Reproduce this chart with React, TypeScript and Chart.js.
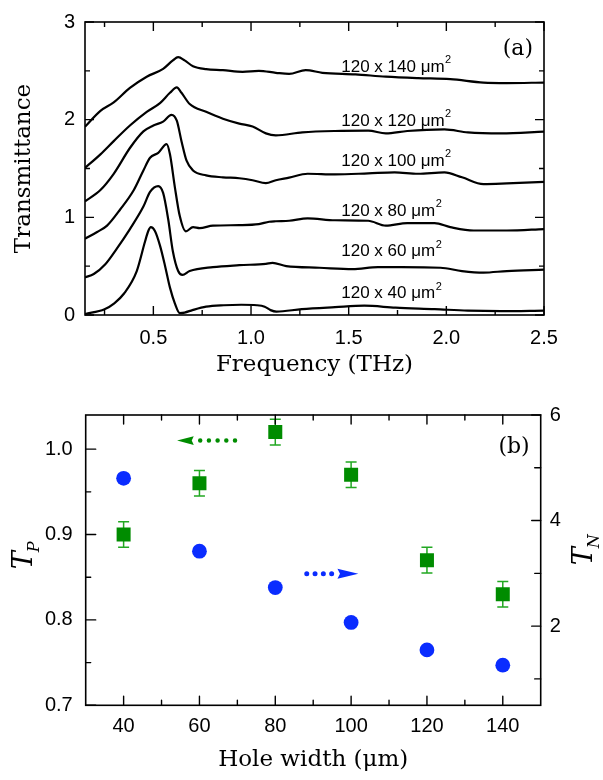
import { useEffect, useRef } from "react";
import { Chart, registerables } from "chart.js";

Chart.register(...registerables);

// ---- panel (a): transmittance spectra (curves are offset) ----
const freq40 = [0.15, 0.25, 0.3, 0.35, 0.415, 0.457, 0.474, 0.487, 0.508, 0.534, 0.559, 0.585, 0.61, 0.635, 0.66, 0.7, 0.77, 0.86, 0.95, 1.03, 1.07, 1.1, 1.13, 1.26, 1.43, 1.58, 1.74, 1.94, 2.11, 2.28, 2.5];
const trans40 = [0.01, 0.06, 0.12, 0.22, 0.45, 0.75, 0.86, 0.9, 0.86, 0.71, 0.51, 0.28, 0.12, 0.02, 0.025, 0.05, 0.085, 0.1, 0.105, 0.1, 0.085, 0.05, 0.035, 0.06, 0.08, 0.095, 0.075, 0.06, 0.045, 0.04, 0.045];

const freq60 = [0.15, 0.195, 0.254, 0.313, 0.38, 0.449, 0.483, 0.525, 0.55, 0.576, 0.6, 0.627, 0.649, 0.686, 0.805, 0.94, 1.076, 1.11, 1.18, 1.35, 1.52, 1.65, 1.77, 1.97, 2.08, 2.19, 2.31, 2.5];
const trans60 = [0.385, 0.42, 0.52, 0.68, 0.88, 1.11, 1.26, 1.32, 1.25, 0.98, 0.65, 0.45, 0.41, 0.45, 0.49, 0.51, 0.524, 0.534, 0.5, 0.484, 0.47, 0.49, 0.49, 0.484, 0.45, 0.434, 0.45, 0.464];

const freq80 = [0.15, 0.212, 0.263, 0.33, 0.4, 0.449, 0.483, 0.525, 0.568, 0.585, 0.61, 0.635, 0.666, 0.703, 0.737, 0.805, 0.94, 1.04, 1.093, 1.127, 1.195, 1.29, 1.43, 1.6, 1.69, 1.8, 1.94, 2.02, 2.14, 2.31, 2.5];
const trans80 = [0.78, 0.85, 0.915, 1.08, 1.28, 1.48, 1.61, 1.66, 1.75, 1.645, 1.31, 1.015, 0.856, 0.9, 0.89, 0.915, 0.92, 0.93, 0.955, 0.96, 0.965, 0.99, 0.97, 0.965, 0.915, 0.94, 0.94, 0.9, 0.865, 0.865, 0.88];

const freq100 = [0.15, 0.229, 0.297, 0.38, 0.449, 0.5, 0.55, 0.593, 0.62, 0.644, 0.67, 0.703, 0.77, 0.856, 0.94, 1.008, 1.076, 1.127, 1.195, 1.29, 1.43, 1.6, 1.735, 1.855, 1.99, 2.08, 2.19, 2.31, 2.5];
const trans100 = [1.164, 1.28, 1.446, 1.71, 1.88, 1.94, 1.98, 2.05, 1.99, 1.78, 1.58, 1.48, 1.43, 1.41, 1.4, 1.38, 1.35, 1.38, 1.406, 1.446, 1.44, 1.45, 1.46, 1.446, 1.46, 1.41, 1.34, 1.347, 1.363];

const freq120 = [0.15, 0.229, 0.297, 0.38, 0.466, 0.534, 0.585, 0.62, 0.644, 0.686, 0.77, 0.856, 0.94, 1.008, 1.076, 1.127, 1.263, 1.43, 1.6, 1.69, 1.8, 1.99, 2.11, 2.28, 2.5];
const trans120 = [1.506, 1.645, 1.78, 1.94, 2.08, 2.17, 2.275, 2.33, 2.275, 2.16, 2.08, 2.01, 1.96, 1.93, 1.86, 1.84, 1.87, 1.884, 1.887, 1.86, 1.884, 1.9, 1.87, 1.86, 1.877];

const freq140 = [0.15, 0.229, 0.297, 0.38, 0.466, 0.55, 0.6, 0.627, 0.66, 0.703, 0.77, 0.856, 0.957, 1.04, 1.127, 1.195, 1.28, 1.365, 1.535, 1.69, 1.855, 2.02, 2.19, 2.31, 2.5];
const trans140 = [1.927, 2.09, 2.176, 2.325, 2.44, 2.52, 2.607, 2.64, 2.607, 2.547, 2.517, 2.507, 2.49, 2.5, 2.48, 2.468, 2.507, 2.48, 2.464, 2.44, 2.425, 2.415, 2.38, 2.375, 2.38];

const curveFreqs = [freq40, freq60, freq80, freq100, freq120, freq140];
const curveTrans = [trans40, trans60, trans80, trans100, trans120, trans140];
const curveLabels = ["120 x 40 \u03bcm", "120 x 60 \u03bcm", "120 x 80 \u03bcm", "120 x 100 \u03bcm", "120 x 120 \u03bcm", "120 x 140 \u03bcm"];
const curveLabelY = [0.17, 0.6, 1.015, 1.53, 1.94, 2.49];
const curveLabelX = 1.462;

const freqTicks = [0.5, 1.0, 1.5, 2.0, 2.5];
const freqMinor = [0.25, 0.75, 1.25, 1.75, 2.25];
const transTicks = [0, 1, 2, 3];
const transMinor = [0.5, 1.5, 2.5];

// ---- panel (b): peak transmittance vs hole width ----
const holeWidth = [40, 60, 80, 100, 120, 140];
const tp = [0.9, 0.96, 1.02, 0.97, 0.87, 0.83];
const tpErr = [0.015, 0.015, 0.015, 0.015, 0.015, 0.015];
const tn = [4.8, 3.42, 2.73, 2.07, 1.55, 1.26];

const holeTicks = [40, 60, 80, 100, 120, 140];
const holeMinor = [50, 70, 90, 110, 130];
const tpTicks = [0.7, 0.8, 0.9, 1.0];
const tpMinor = [0.75, 0.85, 0.95];
const tnTicks = [2, 4, 6];
const tnMinor = [1, 3, 5];

const GREEN = "#008c00";
const GREEN_ERR = "#22a822";
const BLUE = "#0a2cff";
const SANS = "'Liberation Sans', Arial, sans-serif";
const SERIF = "'DejaVu Serif', serif";

const tickFont = { family: SANS, size: 20 };
const titleFont = { family: SERIF, size: 23 };

function drawTicks(ctx: any, area: any, scale: any, values: number[], len: number, side: string) {
  ctx.beginPath();
  values.forEach((v) => {
    const p = scale.getPixelForValue(v);
    if (side === "bottom") { ctx.moveTo(p, area.bottom); ctx.lineTo(p, area.bottom - len); }
    if (side === "top") { ctx.moveTo(p, area.top); ctx.lineTo(p, area.top + len); }
    if (side === "left") { ctx.moveTo(area.left, p); ctx.lineTo(area.left + len, p); }
    if (side === "right") { ctx.moveTo(area.right, p); ctx.lineTo(area.right - len, p); }
  });
  ctx.stroke();
}

function drawFrame(ctx: any, area: any) {
  ctx.strokeStyle = "#000";
  ctx.lineWidth = 1.6;
  ctx.strokeRect(area.left, area.top, area.right - area.left, area.bottom - area.top);
}

function drawPanelLetter(ctx: any, area: any, text: string, dy: number) {
  ctx.fillStyle = "#000";
  ctx.font = `22px ${SERIF}`;
  ctx.textAlign = "right";
  ctx.textBaseline = "alphabetic";
  ctx.fillText(text, area.right - 11, area.top + dy);
}

const spectraPlugin = {
  id: "spectraDecor",
  afterDatasetsDraw(chart: any) {
    const { ctx, chartArea: a, scales } = chart;
    ctx.save();
    ctx.fillStyle = "#000";
    ctx.textBaseline = "alphabetic";
    ctx.textAlign = "left";
    curveLabels.forEach((label, i) => {
      const x = scales.x.getPixelForValue(curveLabelX);
      const y = scales.y.getPixelForValue(curveLabelY[i]);
      ctx.font = `17px ${SANS}`;
      ctx.fillText(label, x, y);
      const w = ctx.measureText(label).width;
      ctx.font = `11px ${SANS}`;
      ctx.fillText("2", x + w + 0.5, y - 8.5);
    });
    drawFrame(ctx, a);
    ctx.lineWidth = 1.4;
    drawTicks(ctx, a, scales.x, freqTicks, 9, "bottom");
    drawTicks(ctx, a, scales.x, freqMinor, 5, "bottom");
    drawTicks(ctx, a, scales.x, freqTicks, 9, "top");
    drawTicks(ctx, a, scales.x, freqMinor, 5, "top");
    drawTicks(ctx, a, scales.y, transTicks, 9, "left");
    drawTicks(ctx, a, scales.y, transMinor, 5, "left");
    drawTicks(ctx, a, scales.y, transTicks, 9, "right");
    drawTicks(ctx, a, scales.y, transMinor, 5, "right");
    drawPanelLetter(ctx, a, "(a)", 33);
    ctx.restore();
  },
};

function drawArrow(ctx: any, sx: any, sy: any, yVal: number, dotFrom: number, dotTo: number, headBase: number, tip: number, half: number, dot: number, gap: number, color: string) {
  const y = sy.getPixelForValue(yVal);
  ctx.strokeStyle = color;
  ctx.fillStyle = color;
  ctx.lineCap = "round";
  ctx.lineWidth = dot;
  ctx.setLineDash([0, gap]);
  ctx.beginPath();
  ctx.moveTo(sx.getPixelForValue(dotFrom), y);
  ctx.lineTo(sx.getPixelForValue(dotTo), y);
  ctx.stroke();
  ctx.setLineDash([]);
  const b = sx.getPixelForValue(headBase);
  const t = sx.getPixelForValue(tip);
  ctx.beginPath();
  ctx.moveTo(t, y);
  ctx.lineTo(b, y - half);
  ctx.lineTo(b + (t - b) * 0.12, y);
  ctx.lineTo(b, y + half);
  ctx.closePath();
  ctx.fill();
}

function drawSubLabel(ctx: any, x: number, y: number, main: string, sub: string) {
  ctx.save();
  ctx.translate(x, y);
  ctx.rotate(-Math.PI / 2);
  ctx.fillStyle = "#000";
  ctx.textAlign = "left";
  ctx.textBaseline = "alphabetic";
  ctx.font = `italic 27px ${SERIF}`;
  ctx.fillText(main, 0, 0);
  const w = ctx.measureText(main).width;
  ctx.font = `italic 16px ${SERIF}`;
  ctx.fillText(sub, w - 1, 7);
  ctx.restore();
}

const holePlugin = {
  id: "holeDecor",
  beforeDatasetsDraw(chart: any) {
    const { ctx, scales } = chart;
    ctx.save();
    ctx.strokeStyle = GREEN_ERR;
    ctx.lineWidth = 1.5;
    holeWidth.forEach((w, i) => {
      const x = scales.x.getPixelForValue(w);
      const top = scales.y.getPixelForValue(tp[i] + tpErr[i]);
      const bot = scales.y.getPixelForValue(tp[i] - tpErr[i]);
      ctx.beginPath();
      ctx.moveTo(x, top); ctx.lineTo(x, bot);
      ctx.moveTo(x - 5.5, top); ctx.lineTo(x + 5.5, top);
      ctx.moveTo(x - 5.5, bot); ctx.lineTo(x + 5.5, bot);
      ctx.stroke();
    });
    ctx.restore();
  },
  afterDatasetsDraw(chart: any) {
    const { ctx, chartArea: a, scales } = chart;
    ctx.save();
    drawArrow(ctx, scales.x, scales.y, 1.01, 60.2, 69.4, 58.5, 54.1, 4.3, 4.5, 8.7, GREEN);
    drawArrow(ctx, scales.x, scales.y, 0.854, 88.3, 95, 96.4, 101.9, 5, 5, 8.3, BLUE);
    drawFrame(ctx, a);
    ctx.lineWidth = 1.4;
    drawTicks(ctx, a, scales.x, holeTicks, 9, "bottom");
    drawTicks(ctx, a, scales.x, holeMinor, 5, "bottom");
    drawTicks(ctx, a, scales.x, holeTicks, 9, "top");
    drawTicks(ctx, a, scales.x, holeMinor, 5, "top");
    drawTicks(ctx, a, scales.y, tpTicks, 10, "left");
    drawTicks(ctx, a, scales.y, tpMinor, 5, "left");
    drawTicks(ctx, a, scales.y2, tnTicks, 9, "right");
    drawTicks(ctx, a, scales.y2, tnMinor, 6, "right");
    drawPanelLetter(ctx, a, "(b)", 38);
    const mid = (a.top + a.bottom) / 2;
    drawSubLabel(ctx, a.left - 54, mid + 9, "T", "P");
    drawSubLabel(ctx, a.right + 51, mid + 5, "T", "N");
    ctx.restore();
  },
};

const hiddenGrid = { display: false, drawTicks: false, tickLength: 0 };
const noBorder = { display: false };

function setTicks(values: number[]) {
  return (scale: any) => {
    scale.ticks = values.map((v) => ({ value: v }));
  };
}

function fixWidth(w: number) {
  return (scale: any) => { scale.width = w; };
}

function fixHeight(h: number) {
  return (scale: any) => { scale.height = h; };
}

function SpectraChart() {
  const canvasRef = useRef<HTMLCanvasElement | null>(null);
  useEffect(() => {
    if (!canvasRef.current) return;
    const chart = new Chart(canvasRef.current, {
      type: "line",
      data: {
        datasets: curveFreqs.map((fs, i) => ({
          data: fs.map((f, j) => ({ x: f, y: curveTrans[i][j] })),
          borderColor: "#000",
          borderWidth: 2.2,
          pointRadius: 0,
          cubicInterpolationMode: "monotone",
          fill: false,
        })),
      },
      options: {
        responsive: false,
        animation: false,
        events: [],
        layout: { padding: { top: 14, right: 59, left: 0, bottom: 0 } },
        plugins: { legend: { display: false }, tooltip: { enabled: false } },
        scales: {
          x: {
            type: "linear",
            min: 0.15,
            max: 2.5,
            afterBuildTicks: setTicks(freqTicks),
            afterFit: fixHeight(75),
            grid: hiddenGrid,
            border: noBorder,
            ticks: { font: tickFont, color: "#000", padding: 11, maxRotation: 0, callback: (v: any) => Number(v).toFixed(1) },
            title: { display: true, text: "Frequency (THz)", font: titleFont, color: "#000", padding: { top: 0, bottom: 11 } },
          },
          y: {
            type: "linear",
            min: 0,
            max: 3,
            afterBuildTicks: setTicks(transTicks),
            afterFit: fixWidth(85),
            grid: hiddenGrid,
            border: noBorder,
            ticks: { font: tickFont, color: "#000", padding: 10, callback: (v: any) => String(v) },
            title: { display: true, text: "Transmittance", font: titleFont, color: "#000", padding: { top: 10, bottom: 0 } },
          },
        },
      },
      plugins: [spectraPlugin],
    } as any);
    return () => chart.destroy();
  }, []);
  return <canvas ref={canvasRef} width={603} height={390} style={{ position: "absolute", left: 0, top: 0, width: 603, height: 390 }} />;
}

function HoleChart() {
  const canvasRef = useRef<HTMLCanvasElement | null>(null);
  useEffect(() => {
    if (!canvasRef.current) return;
    const chart = new Chart(canvasRef.current, {
      type: "scatter",
      data: {
        datasets: [
          {
            data: holeWidth.map((w, i) => ({ x: w, y: tp[i] })),
            yAxisID: "y",
            pointStyle: "rect",
            pointRadius: 9.9,
            backgroundColor: GREEN,
            borderColor: GREEN,
            borderWidth: 0,
          },
          {
            data: holeWidth.map((w, i) => ({ x: w, y: tn[i] })),
            yAxisID: "y2",
            pointStyle: "circle",
            pointRadius: 7.4,
            backgroundColor: BLUE,
            borderColor: BLUE,
            borderWidth: 0,
          },
        ],
      },
      options: {
        responsive: false,
        animation: false,
        events: [],
        layout: { padding: { top: 12.3, right: 0, left: 0, bottom: 0 } },
        plugins: { legend: { display: false }, tooltip: { enabled: false } },
        scales: {
          x: {
            type: "linear",
            min: 30,
            max: 150,
            afterBuildTicks: setTicks(holeTicks),
            afterFit: fixHeight(74.7),
            grid: hiddenGrid,
            border: noBorder,
            ticks: { font: tickFont, color: "#000", padding: 9, maxRotation: 0, callback: (v: any) => String(v) },
            title: { display: true, text: "Hole width (\u03bcm)", font: titleFont, color: "#000", padding: { top: 0, bottom: 6 } },
          },
          y: {
            type: "linear",
            position: "left",
            min: 0.7,
            max: 1.04,
            afterBuildTicks: setTicks(tpTicks),
            afterFit: fixWidth(85.7),
            grid: hiddenGrid,
            border: noBorder,
            ticks: { font: tickFont, color: "#000", padding: 13, callback: (v: any) => Number(v).toFixed(1) },
          },
          y2: {
            type: "linear",
            position: "right",
            min: 0.5,
            max: 6,
            afterBuildTicks: setTicks(tnTicks),
            afterFit: fixWidth(62.3),
            grid: hiddenGrid,
            border: noBorder,
            ticks: { font: tickFont, color: "#000", padding: 9, callback: (v: any) => String(v) },
          },
        },
      },
      plugins: [holePlugin],
    } as any);
    return () => chart.destroy();
  }, []);
  return <canvas ref={canvasRef} width={603} height={390} style={{ position: "absolute", left: 0, top: 390, width: 603, height: 390 }} />;
}

export default function App() {
  return (
    <div style={{ position: "absolute", left: 0, top: 0, width: 603, height: 780, background: "#fff" }}>
      <SpectraChart />
      <HoleChart />
    </div>
  );
}
